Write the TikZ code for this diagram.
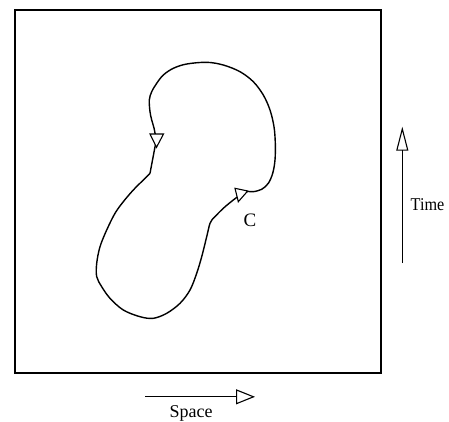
\documentclass[tikz,border=0pt]{standalone}
\usepackage{fontspec}
\setmainfont{Liberation Serif}
\usetikzlibrary{arrows.meta}
\begin{document}
\begin{tikzpicture}[x=1pt,y=-1pt,
  frame/.style={line width=1.4pt},
  loop/.style={line width=1.4pt, line join=round},
  headtri/.style={line width=1.1pt, fill=white, line join=miter},
  axis/.style={line width=1.1pt},
  lbl/.style={font=\fontsize{18}{20}\selectfont, inner sep=0pt}]
\useasboundingbox (0,0) rectangle (449,421);
% frame
\draw[frame] (15,10) rectangle (381,373);
% closed loop
\draw[loop] plot[smooth,tension=0.55] coordinates {(150,173.3) (143.3,180) (133.3,190) (123.3,201.7) (115,213.3) (106.7,230) (100,246.7) (96.7,263.3) (96.7,276.7) (101.7,286.7) (110,298.3) (123.3,310) (140,316.7) (153.3,318.3) (166.7,313.3) (180,303.3) (190,290) (196.7,273.3) (201.7,256.7) (206.7,236.7) (210,223.3) (213.3,218.3)}
  -- plot[smooth,tension=0.55] coordinates {(213.3,218.3) (223.3,208.3) (233.3,200) (241,194.5) (247.7,191.5) (253.3,191.7) (261.7,189.3) (268.3,183.3) (272.7,173.3) (275,160) (275.3,143.3) (274,126.7) (270,110) (263.3,95) (253.3,81.7) (240,71.7) (223.3,65) (206.7,62.3) (186.7,64) (173.3,68.3) (163.3,75) (156.7,83.3) (151.7,91.7) (149.3,100) (150,111.7) (151.7,120) (154,128) (156.3,140)}
  -- (150,173.3);
% direction marks on the loop
\draw[headtri] (150,134) -- (163.5,134) -- (156.5,147.3) -- cycle;
\draw[headtri] (235,188.3) -- (247.7,191) -- (238.3,201.7) -- cycle;
\node[lbl, font=\fontsize{19}{21}\selectfont] (c) at (250,220.5) {C};
% time axis
\coordinate (t0) at (402.3,263);
\coordinate (t1) at (402.3,126.7);
\draw[axis, -{Triangle[open, length=24pt, width=12pt]}] (t0) -- (t1);
\node[lbl, xscale=0.9] (time) at (427.5,205) {Time};
% space axis
\coordinate (s0) at (145,396.8);
\coordinate (s1) at (255,396.8);
\draw[axis, -{Triangle[open, length=19pt, width=15pt]}] (s0) -- (s1);
\node[lbl] (space) at (191,413) {Space};
\end{tikzpicture}
\end{document}
